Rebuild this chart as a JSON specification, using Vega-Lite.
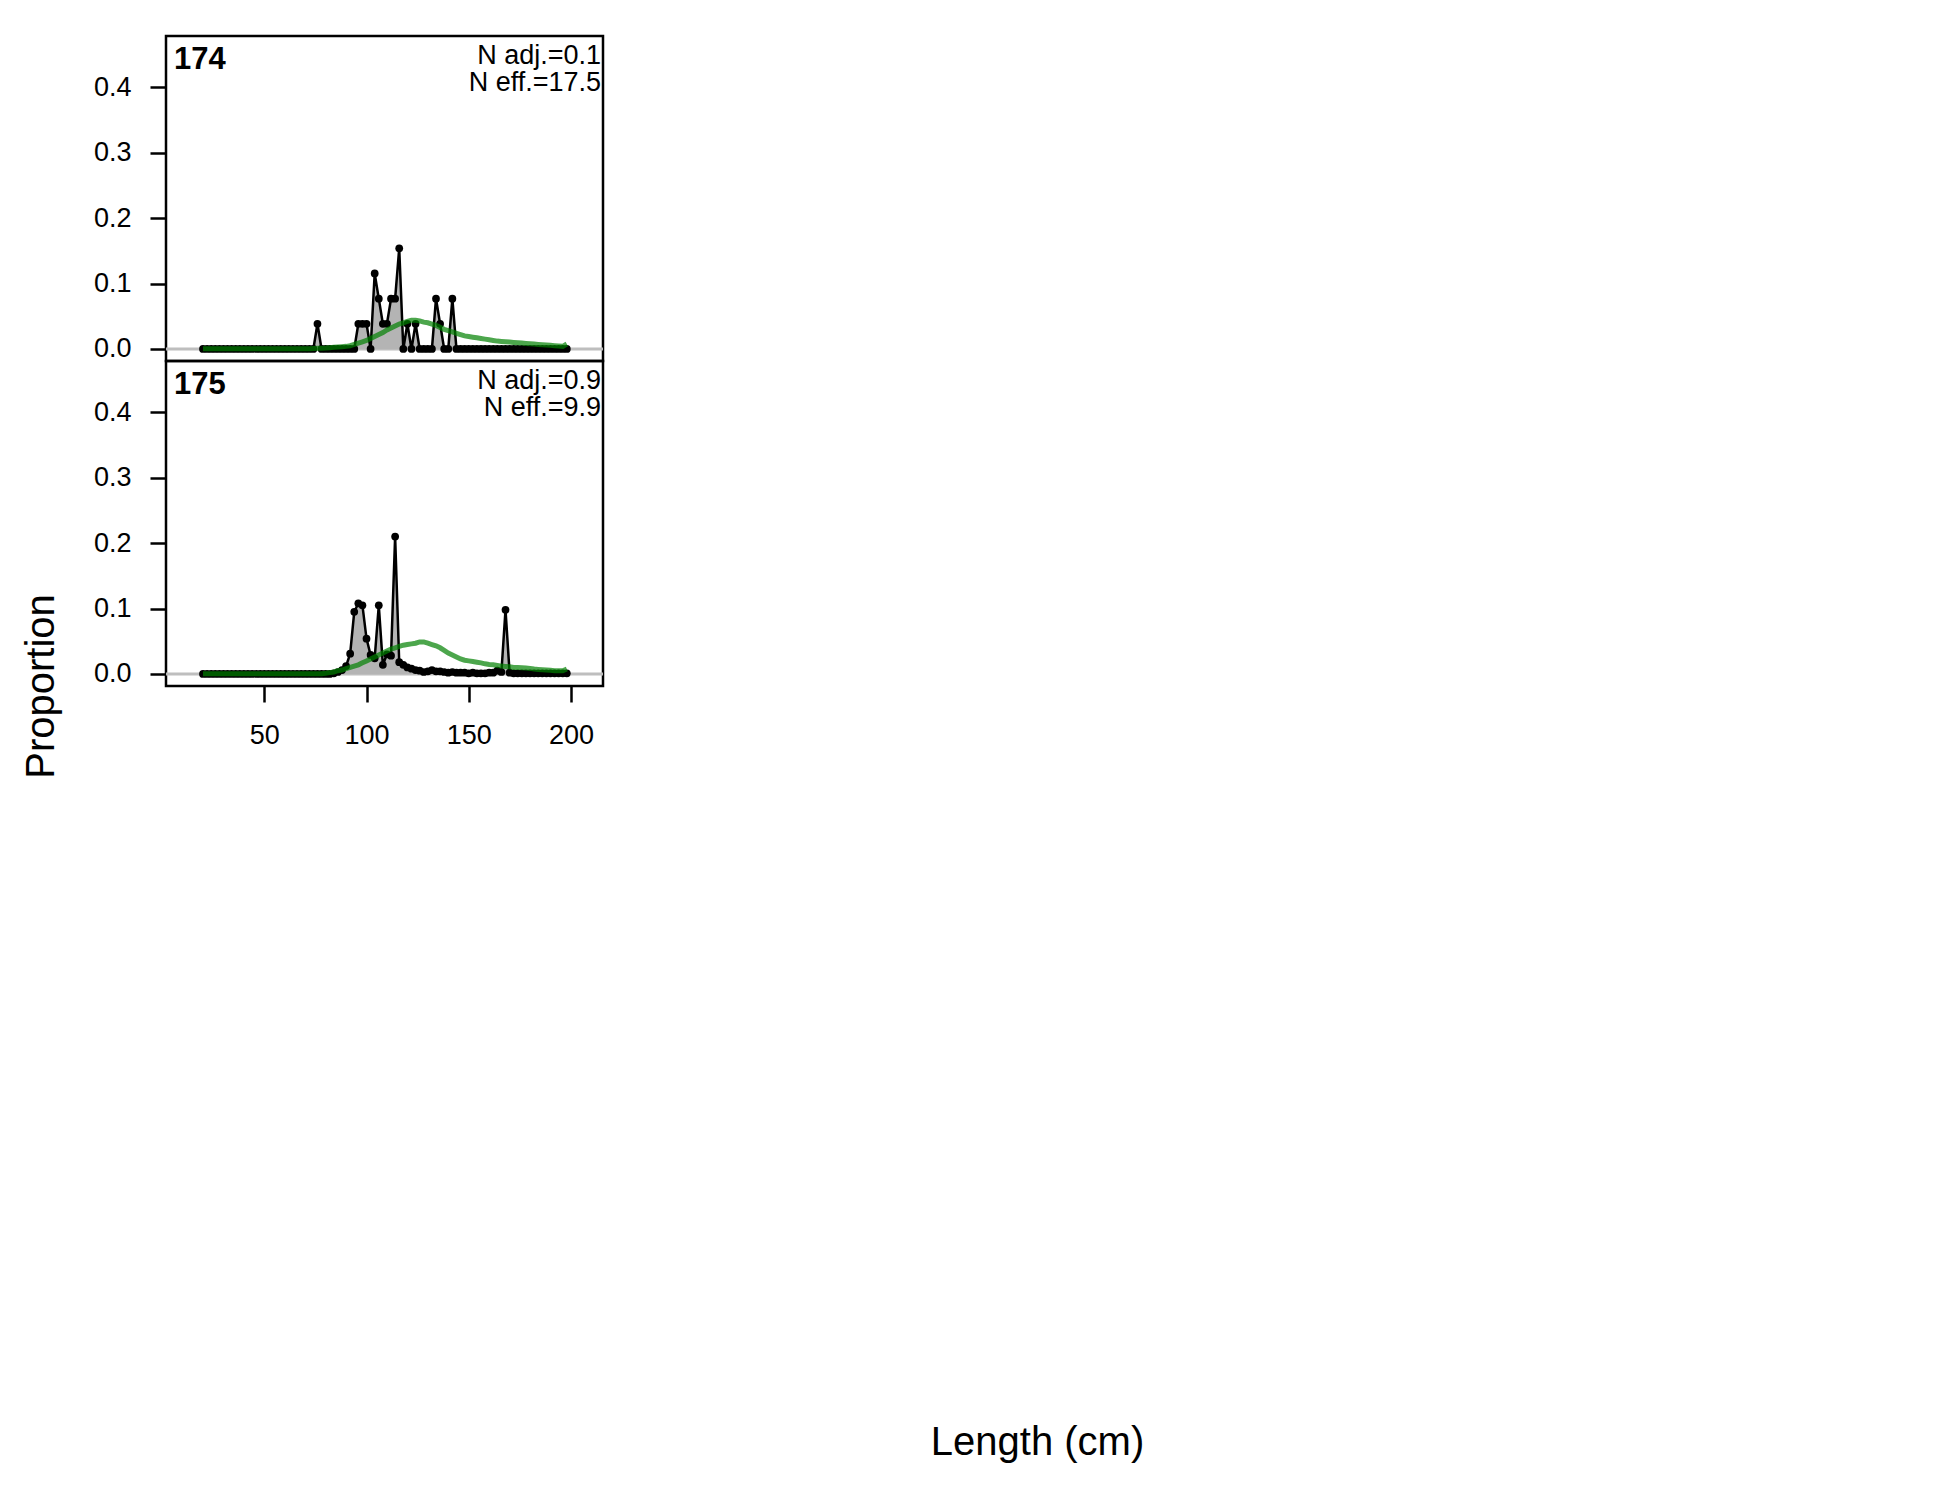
{
"$schema": "https://vega.github.io/schema/vega-lite/v6.json",
"background": "white",
"padding": {"left": 19, "top": 34, "right": 5, "bottom": 5},
"config": {
  "font": "Liberation Sans",
  "view": {"stroke": "black", "strokeWidth": 2.5},
  "axis": {"grid": false, "domain": false, "tickColor": "black", "tickWidth": 2.5, "tickSize": 16, "labelFont": "Liberation Sans", "labelFontSize": 27, "labelColor": "black", "titleFont": "Liberation Sans", "titleFontSize": 40, "titleFontWeight": "normal", "titleColor": "black"}
},
"datasets": {
"p174": [
{"len":20,"obs":0,"exp":0.0003},{"len":22,"obs":0,"exp":0.0003},{"len":24,"obs":0,"exp":0.0003},{"len":26,"obs":0,"exp":0.0003},{"len":28,"obs":0,"exp":0.0003},{"len":30,"obs":0,"exp":0.0003},{"len":32,"obs":0,"exp":0.0003},{"len":34,"obs":0,"exp":0.0003},{"len":36,"obs":0,"exp":0.0003},{"len":38,"obs":0,"exp":0.0003},{"len":40,"obs":0,"exp":0.0003},{"len":42,"obs":0,"exp":0.0003},{"len":44,"obs":0,"exp":0.0003},{"len":46,"obs":0,"exp":0.0003},{"len":48,"obs":0,"exp":0.0003},{"len":50,"obs":0,"exp":0.0003},{"len":52,"obs":0,"exp":0.0003},{"len":54,"obs":0,"exp":0.0003},{"len":56,"obs":0,"exp":0.0003},{"len":58,"obs":0,"exp":0.0003},{"len":60,"obs":0,"exp":0.0003},{"len":62,"obs":0,"exp":0.0003},{"len":64,"obs":0,"exp":0.0003},{"len":66,"obs":0,"exp":0.0003},{"len":68,"obs":0,"exp":0.0003},{"len":70,"obs":0,"exp":0.0003},
{"len":72,"obs":0,"exp":0.0005},{"len":74,"obs":0,"exp":0.0007},{"len":76,"obs":0.0385,"exp":0.001},{"len":78,"obs":0,"exp":0.0012},{"len":80,"obs":0,"exp":0.0015},{"len":82,"obs":0,"exp":0.002},{"len":84,"obs":0,"exp":0.0025},{"len":86,"obs":0,"exp":0.003},{"len":88,"obs":0,"exp":0.0035},{"len":90,"obs":0,"exp":0.004},{"len":92,"obs":0,"exp":0.005},{"len":94,"obs":0,"exp":0.007},
{"len":96,"obs":0.0385,"exp":0.009},{"len":98,"obs":0.0385,"exp":0.011},{"len":100,"obs":0.0385,"exp":0.013},{"len":102,"obs":0,"exp":0.016},{"len":104,"obs":0.1154,"exp":0.019},{"len":106,"obs":0.0769,"exp":0.022},{"len":108,"obs":0.0385,"exp":0.025},{"len":110,"obs":0.0385,"exp":0.029},{"len":112,"obs":0.0769,"exp":0.032},{"len":114,"obs":0.0769,"exp":0.035},{"len":116,"obs":0.1538,"exp":0.038},{"len":118,"obs":0,"exp":0.040},{"len":120,"obs":0.0385,"exp":0.042},{"len":122,"obs":0,"exp":0.044},{"len":124,"obs":0.0385,"exp":0.044},{"len":126,"obs":0,"exp":0.043},{"len":128,"obs":0,"exp":0.041},{"len":130,"obs":0,"exp":0.040},{"len":132,"obs":0,"exp":0.038},{"len":134,"obs":0.0769,"exp":0.036},{"len":136,"obs":0.0385,"exp":0.033},{"len":138,"obs":0,"exp":0.030},{"len":140,"obs":0,"exp":0.028},{"len":142,"obs":0.0769,"exp":0.026},{"len":144,"obs":0,"exp":0.024},{"len":146,"obs":0,"exp":0.022},{"len":148,"obs":0,"exp":0.020},{"len":150,"obs":0,"exp":0.019},{"len":152,"obs":0,"exp":0.018},{"len":154,"obs":0,"exp":0.017},{"len":156,"obs":0,"exp":0.016},{"len":158,"obs":0,"exp":0.015},{"len":160,"obs":0,"exp":0.014},{"len":162,"obs":0,"exp":0.013},{"len":164,"obs":0,"exp":0.012},{"len":166,"obs":0,"exp":0.0115},{"len":168,"obs":0,"exp":0.011},{"len":170,"obs":0,"exp":0.0105},{"len":172,"obs":0,"exp":0.010},{"len":174,"obs":0,"exp":0.0095},{"len":176,"obs":0,"exp":0.009},{"len":178,"obs":0,"exp":0.0085},{"len":180,"obs":0,"exp":0.008},{"len":182,"obs":0,"exp":0.0075},{"len":184,"obs":0,"exp":0.007},{"len":186,"obs":0,"exp":0.0065},{"len":188,"obs":0,"exp":0.006},{"len":190,"obs":0,"exp":0.0055},{"len":192,"obs":0,"exp":0.005},{"len":194,"obs":0,"exp":0.0045},{"len":196,"obs":0,"exp":0.004},{"len":198,"obs":0,"exp":0.0076}
],
"p175": [
{"len":20,"obs":0,"exp":0.0005},{"len":22,"obs":0,"exp":0.0005},{"len":24,"obs":0,"exp":0.0005},{"len":26,"obs":0,"exp":0.0005},{"len":28,"obs":0,"exp":0.0005},{"len":30,"obs":0,"exp":0.0005},{"len":32,"obs":0,"exp":0.0005},{"len":34,"obs":0,"exp":0.0005},{"len":36,"obs":0,"exp":0.0005},{"len":38,"obs":0,"exp":0.0005},{"len":40,"obs":0,"exp":0.0005},{"len":42,"obs":0,"exp":0.0005},{"len":44,"obs":0,"exp":0.0005},{"len":46,"obs":0,"exp":0.0005},{"len":48,"obs":0,"exp":0.0005},{"len":50,"obs":0,"exp":0.0005},{"len":52,"obs":0,"exp":0.0005},{"len":54,"obs":0,"exp":0.0005},{"len":56,"obs":0,"exp":0.0005},{"len":58,"obs":0,"exp":0.0005},{"len":60,"obs":0,"exp":0.0005},{"len":62,"obs":0,"exp":0.0005},{"len":64,"obs":0,"exp":0.0005},{"len":66,"obs":0,"exp":0.0005},{"len":68,"obs":0,"exp":0.0005},{"len":70,"obs":0,"exp":0.0005},{"len":72,"obs":0,"exp":0.0005},{"len":74,"obs":0,"exp":0.0005},{"len":76,"obs":0,"exp":0.0005},{"len":78,"obs":0,"exp":0.0005},{"len":80,"obs":0,"exp":0.001},{"len":82,"obs":0,"exp":0.002},
{"len":84,"obs":0.001,"exp":0.003},{"len":86,"obs":0.003,"exp":0.005},{"len":88,"obs":0.006,"exp":0.006},{"len":90,"obs":0.012,"exp":0.008},{"len":92,"obs":0.031,"exp":0.010},{"len":94,"obs":0.095,"exp":0.012},{"len":96,"obs":0.108,"exp":0.014},{"len":98,"obs":0.105,"exp":0.017},{"len":100,"obs":0.054,"exp":0.020},{"len":102,"obs":0.029,"exp":0.023},{"len":104,"obs":0.024,"exp":0.026},{"len":106,"obs":0.105,"exp":0.029},{"len":108,"obs":0.014,"exp":0.032},{"len":110,"obs":0.030,"exp":0.035},{"len":112,"obs":0.028,"exp":0.038},{"len":114,"obs":0.210,"exp":0.040},{"len":116,"obs":0.018,"exp":0.042},{"len":118,"obs":0.014,"exp":0.044},{"len":120,"obs":0.010,"exp":0.045},{"len":122,"obs":0.008,"exp":0.046},{"len":124,"obs":0.006,"exp":0.047},{"len":126,"obs":0.005,"exp":0.049},{"len":128,"obs":0.003,"exp":0.049},{"len":130,"obs":0.004,"exp":0.047},{"len":132,"obs":0.006,"exp":0.045},{"len":134,"obs":0.004,"exp":0.043},{"len":136,"obs":0.004,"exp":0.040},{"len":138,"obs":0.003,"exp":0.036},{"len":140,"obs":0.002,"exp":0.032},{"len":142,"obs":0.003,"exp":0.029},{"len":144,"obs":0.002,"exp":0.026},{"len":146,"obs":0.002,"exp":0.023},{"len":148,"obs":0.002,"exp":0.021},{"len":150,"obs":0.001,"exp":0.020},{"len":152,"obs":0.002,"exp":0.019},{"len":154,"obs":0.001,"exp":0.018},{"len":156,"obs":0.001,"exp":0.017},{"len":158,"obs":0.001,"exp":0.0155},{"len":160,"obs":0.002,"exp":0.0145},{"len":162,"obs":0.002,"exp":0.014},{"len":164,"obs":0.005,"exp":0.013},{"len":166,"obs":0.003,"exp":0.012},{"len":168,"obs":0.098,"exp":0.0115},{"len":170,"obs":0.002,"exp":0.011},{"len":172,"obs":0.001,"exp":0.010},{"len":174,"obs":0.001,"exp":0.0098},{"len":176,"obs":0.001,"exp":0.0094},{"len":178,"obs":0.001,"exp":0.009},{"len":180,"obs":0.001,"exp":0.0085},{"len":182,"obs":0.001,"exp":0.0075},{"len":184,"obs":0.001,"exp":0.007},{"len":186,"obs":0.001,"exp":0.0065},{"len":188,"obs":0.001,"exp":0.006},{"len":190,"obs":0.001,"exp":0.0055},{"len":192,"obs":0.001,"exp":0.005},{"len":194,"obs":0.001,"exp":0.005},{"len":196,"obs":0.001,"exp":0.005},{"len":198,"obs":0.001,"exp":0.0076}
]
},
"spacing": 0,
"bounds": "flush",
"vconcat": [
{
  "width": 437, "height": 325,
  "layer": [
    {"data": {"values": [{}]}, "mark": {"type": "rule", "color": "#bebebe", "strokeWidth": 3},
     "encoding": {"y": {"datum": 0, "type": "quantitative", "scale": {"domain": [-0.0184, 0.4784], "nice": false, "zero": false}, "axis": {"title": null, "values": [0, 0.1, 0.2, 0.3, 0.4], "format": ".1f", "labelPadding": 19}}}},
    {"data": {"name": "p174"}, "mark": {"type": "area", "color": "#b4b4b4"},
     "encoding": {
       "x": {"field": "len", "type": "quantitative", "scale": {"domain": [1.9, 215.7], "nice": false, "zero": false}, "axis": null},
       "y": {"field": "obs", "type": "quantitative", "scale": {"domain": [-0.0184, 0.4784], "nice": false, "zero": false}, "axis": {"title": null, "values": [0, 0.1, 0.2, 0.3, 0.4], "format": ".1f", "labelPadding": 19}},
       "y2": {"datum": 0}}},
    {"data": {"name": "p174"}, "mark": {"type": "line", "color": "black", "strokeWidth": 2.5, "point": {"filled": true, "color": "black", "size": 60, "opacity": 1}},
     "encoding": {
       "x": {"field": "len", "type": "quantitative", "scale": {"domain": [1.9, 215.7], "nice": false, "zero": false}, "axis": null},
       "y": {"field": "obs", "type": "quantitative", "scale": {"domain": [-0.0184, 0.4784], "nice": false, "zero": false}, "axis": {"title": null, "values": [0, 0.1, 0.2, 0.3, 0.4], "format": ".1f", "labelPadding": 19}}}},
    {"data": {"name": "p174"}, "mark": {"type": "line", "color": "#008000", "opacity": 0.7, "strokeWidth": 5},
     "encoding": {
       "x": {"field": "len", "type": "quantitative", "scale": {"domain": [1.9, 215.7], "nice": false, "zero": false}, "axis": null},
       "y": {"field": "exp", "type": "quantitative", "scale": {"domain": [-0.0184, 0.4784], "nice": false, "zero": false}, "axis": {"title": null, "values": [0, 0.1, 0.2, 0.3, 0.4], "format": ".1f", "labelPadding": 19}}}},
    {"data": {"values": [{"label": "174", "nadj": "N adj.=0.1", "neff": "N eff.=17.5"}]},
     "mark": {"type": "text", "align": "left", "baseline": "alphabetic", "dx": 8, "dy": 33, "fontSize": 31, "fontWeight": "bold", "color": "black"},
     "encoding": {
       "x": {"datum": 1.9, "type": "quantitative", "scale": {"domain": [1.9, 215.7], "nice": false, "zero": false}, "axis": null},
       "y": {"datum": 0.4784, "type": "quantitative", "scale": {"domain": [-0.0184, 0.4784], "nice": false, "zero": false}, "axis": {"title": null, "values": [0, 0.1, 0.2, 0.3, 0.4], "format": ".1f", "labelPadding": 19}},
       "text": {"field": "label"}}},
    {"data": {"values": [{"label": "174", "nadj": "N adj.=0.1", "neff": "N eff.=17.5"}]},
     "mark": {"type": "text", "align": "right", "baseline": "alphabetic", "dx": -2, "dy": 28, "fontSize": 27, "color": "black"},
     "encoding": {
       "x": {"datum": 215.7, "type": "quantitative", "scale": {"domain": [1.9, 215.7], "nice": false, "zero": false}, "axis": null},
       "y": {"datum": 0.4784, "type": "quantitative", "scale": {"domain": [-0.0184, 0.4784], "nice": false, "zero": false}, "axis": {"title": null, "values": [0, 0.1, 0.2, 0.3, 0.4], "format": ".1f", "labelPadding": 19}},
       "text": {"field": "nadj"}}},
    {"data": {"values": [{"label": "174", "nadj": "N adj.=0.1", "neff": "N eff.=17.5"}]},
     "mark": {"type": "text", "align": "right", "baseline": "alphabetic", "dx": -2, "dy": 55, "fontSize": 27, "color": "black"},
     "encoding": {
       "x": {"datum": 215.7, "type": "quantitative", "scale": {"domain": [1.9, 215.7], "nice": false, "zero": false}, "axis": null},
       "y": {"datum": 0.4784, "type": "quantitative", "scale": {"domain": [-0.0184, 0.4784], "nice": false, "zero": false}, "axis": {"title": null, "values": [0, 0.1, 0.2, 0.3, 0.4], "format": ".1f", "labelPadding": 19}},
       "text": {"field": "neff"}}}
  ]
},
{
  "width": 437, "height": 325,
  "layer": [
    {"data": {"values": [{}]}, "mark": {"type": "rule", "color": "#bebebe", "strokeWidth": 3},
     "encoding": {"y": {"datum": 0, "type": "quantitative", "scale": {"domain": [-0.0184, 0.4784], "nice": false, "zero": false}, "axis": {"title": "Proportion", "values": [0, 0.1, 0.2, 0.3, 0.4], "format": ".1f", "labelPadding": 19, "titleX": -113, "titleY": 325, "titleAngle": 270, "titleAlign": "center", "titleBaseline": "alphabetic"}}}},
    {"data": {"name": "p175"}, "mark": {"type": "area", "color": "#b4b4b4"},
     "encoding": {
       "x": {"field": "len", "type": "quantitative", "scale": {"domain": [1.9, 215.7], "nice": false, "zero": false}, "axis": {"title": "Length (cm)", "values": [50, 100, 150, 200], "labelPadding": 20, "titleX": 871, "titleY": 768, "titleAlign": "center", "titleBaseline": "alphabetic", "titleAngle": 0}},
       "y": {"field": "obs", "type": "quantitative", "scale": {"domain": [-0.0184, 0.4784], "nice": false, "zero": false}, "axis": {"title": "Proportion", "values": [0, 0.1, 0.2, 0.3, 0.4], "format": ".1f", "labelPadding": 19, "titleX": -113, "titleY": 325, "titleAngle": 270, "titleAlign": "center", "titleBaseline": "alphabetic"}},
       "y2": {"datum": 0}}},
    {"data": {"name": "p175"}, "mark": {"type": "line", "color": "black", "strokeWidth": 2.5, "point": {"filled": true, "color": "black", "size": 60, "opacity": 1}},
     "encoding": {
       "x": {"field": "len", "type": "quantitative", "scale": {"domain": [1.9, 215.7], "nice": false, "zero": false}, "axis": {"title": "Length (cm)", "values": [50, 100, 150, 200], "labelPadding": 20, "titleX": 871, "titleY": 768, "titleAlign": "center", "titleBaseline": "alphabetic", "titleAngle": 0}},
       "y": {"field": "obs", "type": "quantitative", "scale": {"domain": [-0.0184, 0.4784], "nice": false, "zero": false}, "axis": {"title": "Proportion", "values": [0, 0.1, 0.2, 0.3, 0.4], "format": ".1f", "labelPadding": 19, "titleX": -113, "titleY": 325, "titleAngle": 270, "titleAlign": "center", "titleBaseline": "alphabetic"}}}},
    {"data": {"name": "p175"}, "mark": {"type": "line", "color": "#008000", "opacity": 0.7, "strokeWidth": 5},
     "encoding": {
       "x": {"field": "len", "type": "quantitative", "scale": {"domain": [1.9, 215.7], "nice": false, "zero": false}, "axis": {"title": "Length (cm)", "values": [50, 100, 150, 200], "labelPadding": 20, "titleX": 871, "titleY": 768, "titleAlign": "center", "titleBaseline": "alphabetic", "titleAngle": 0}},
       "y": {"field": "exp", "type": "quantitative", "scale": {"domain": [-0.0184, 0.4784], "nice": false, "zero": false}, "axis": {"title": "Proportion", "values": [0, 0.1, 0.2, 0.3, 0.4], "format": ".1f", "labelPadding": 19, "titleX": -113, "titleY": 325, "titleAngle": 270, "titleAlign": "center", "titleBaseline": "alphabetic"}}}},
    {"data": {"values": [{"label": "175", "nadj": "N adj.=0.9", "neff": "N eff.=9.9"}]},
     "mark": {"type": "text", "align": "left", "baseline": "alphabetic", "dx": 8, "dy": 33, "fontSize": 31, "fontWeight": "bold", "color": "black"},
     "encoding": {
       "x": {"datum": 1.9, "type": "quantitative", "scale": {"domain": [1.9, 215.7], "nice": false, "zero": false}, "axis": {"title": "Length (cm)", "values": [50, 100, 150, 200], "labelPadding": 20, "titleX": 871, "titleY": 768, "titleAlign": "center", "titleBaseline": "alphabetic", "titleAngle": 0}},
       "y": {"datum": 0.4784, "type": "quantitative", "scale": {"domain": [-0.0184, 0.4784], "nice": false, "zero": false}, "axis": {"title": "Proportion", "values": [0, 0.1, 0.2, 0.3, 0.4], "format": ".1f", "labelPadding": 19, "titleX": -113, "titleY": 325, "titleAngle": 270, "titleAlign": "center", "titleBaseline": "alphabetic"}},
       "text": {"field": "label"}}},
    {"data": {"values": [{"label": "175", "nadj": "N adj.=0.9", "neff": "N eff.=9.9"}]},
     "mark": {"type": "text", "align": "right", "baseline": "alphabetic", "dx": -2, "dy": 28, "fontSize": 27, "color": "black"},
     "encoding": {
       "x": {"datum": 215.7, "type": "quantitative", "scale": {"domain": [1.9, 215.7], "nice": false, "zero": false}, "axis": {"title": "Length (cm)", "values": [50, 100, 150, 200], "labelPadding": 20, "titleX": 871, "titleY": 768, "titleAlign": "center", "titleBaseline": "alphabetic", "titleAngle": 0}},
       "y": {"datum": 0.4784, "type": "quantitative", "scale": {"domain": [-0.0184, 0.4784], "nice": false, "zero": false}, "axis": {"title": "Proportion", "values": [0, 0.1, 0.2, 0.3, 0.4], "format": ".1f", "labelPadding": 19, "titleX": -113, "titleY": 325, "titleAngle": 270, "titleAlign": "center", "titleBaseline": "alphabetic"}},
       "text": {"field": "nadj"}}},
    {"data": {"values": [{"label": "175", "nadj": "N adj.=0.9", "neff": "N eff.=9.9"}]},
     "mark": {"type": "text", "align": "right", "baseline": "alphabetic", "dx": -2, "dy": 55, "fontSize": 27, "color": "black"},
     "encoding": {
       "x": {"datum": 215.7, "type": "quantitative", "scale": {"domain": [1.9, 215.7], "nice": false, "zero": false}, "axis": {"title": "Length (cm)", "values": [50, 100, 150, 200], "labelPadding": 20, "titleX": 871, "titleY": 768, "titleAlign": "center", "titleBaseline": "alphabetic", "titleAngle": 0}},
       "y": {"datum": 0.4784, "type": "quantitative", "scale": {"domain": [-0.0184, 0.4784], "nice": false, "zero": false}, "axis": {"title": "Proportion", "values": [0, 0.1, 0.2, 0.3, 0.4], "format": ".1f", "labelPadding": 19, "titleX": -113, "titleY": 325, "titleAngle": 270, "titleAlign": "center", "titleBaseline": "alphabetic"}},
       "text": {"field": "neff"}}}
  ]
}
]
}
